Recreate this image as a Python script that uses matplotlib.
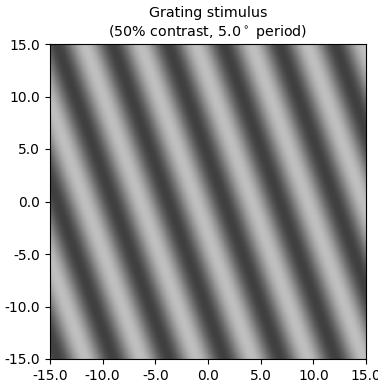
import numpy as np
import matplotlib
matplotlib.use("Agg")
import matplotlib.pyplot as plt

# stimulus parameters
contrast = 0.5
period = 5.0          # degrees
orientation = 19.5    # degrees, direction of the wave vector
phase = 0.21          # in cycles
half_width = 15.0
npix = 256

ticks = [-15.0, -10.0, -5.0, 0.0, 5.0, 10.0, 15.0]
tick_labels = ["%.1f" % t for t in ticks]

x = np.linspace(-half_width, half_width, npix)
X, Y = np.meshgrid(x, x)
theta = np.deg2rad(orientation)
u = X * np.cos(theta) + Y * np.sin(theta)
grating = 0.5 + 0.5 * contrast * np.cos(2 * np.pi * (u / period + phase))

fig = plt.figure(figsize=(3.78, 3.83), dpi=100)
ax = fig.add_axes([50 / 378, 24 / 383, 316 / 378, 315 / 383])
ax.imshow(grating, cmap="gray", vmin=0, vmax=1, origin="lower",
          extent=[-half_width, half_width, -half_width, half_width],
          aspect="auto")
ax.set_xticks(ticks)
ax.set_xticklabels(tick_labels)
ax.set_yticks(ticks)
ax.set_yticklabels(tick_labels)
ax.set_title("Grating stimulus\n(%d%% contrast, %.1f$^\\circ$ period)"
             % (contrast * 100, period), fontsize=10.3)

fig.savefig("out.png", dpi=100)
